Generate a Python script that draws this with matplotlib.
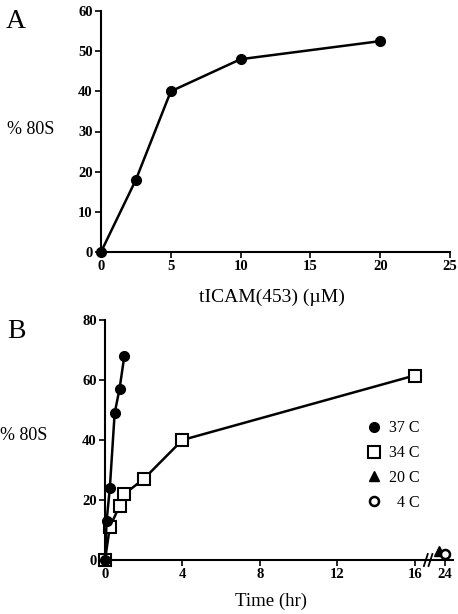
import numpy as np
import matplotlib.pyplot as plt
from matplotlib.lines import Line2D

plt.rcParams["font.family"] = ["Liberation Serif", "DejaVu Serif"]

# panel A: dose response
conc_um = [0, 2.5, 5, 10, 20]
pct80s_a = [0, 18, 40, 48, 52.5]

# panel B: time course per temperature
t37 = [0, 0.083, 0.25, 0.5, 0.75, 1.0]
v37 = [0, 13, 24, 49, 57, 68]
t34 = [0, 0.25, 0.75, 1.0, 2.0, 4.0, 16.0]
v34 = [0, 11, 18, 22, 27, 40, 61.5]
t20 = [20.0]
v20 = [3]
t4 = [24.0]
v4 = [2]

time_ticks = [0, 4, 8, 12, 16, 24]


def tpos(t):
    # broken time axis: compress everything after 17 h
    t = np.asarray(t, dtype=float)
    return np.where(t <= 17, t, 17 + (t - 17) * 0.08)


W, H = 458, 614
fig = plt.figure(figsize=(W / 100, H / 100), dpi=100)

tick_kw = dict(direction="out", length=4, width=1.2, labelsize=10.5)


def style(ax):
    for s in ("top", "right"):
        ax.spines[s].set_visible(False)
    for s in ("left", "bottom"):
        ax.spines[s].set_linewidth(1.5)
    ax.tick_params(**tick_kw, pad=2)
    for lab in ax.get_xticklabels() + ax.get_yticklabels():
        lab.set_fontweight("bold")


# ---- A ----
axA = fig.add_axes([101 / W, 1 - 252 / H, (450 - 101) / W, (252 - 11) / H])
axA.plot(conc_um, pct80s_a, "-o", color="black", lw=1.8, ms=7, clip_on=False, zorder=3)
axA.set_xlim(0, 25)
axA.set_ylim(0, 60)
axA.set_xticks([0, 5, 10, 15, 20, 25])
axA.set_yticks([0, 10, 20, 30, 40, 50, 60])
style(axA)
fig.text(272 / W, 1 - 297 / H, "tICAM(453) (\u00b5M)", ha="center", va="center", fontsize=14)
fig.text(7 / W, 1 - 130 / H, "% 80S", ha="left", va="center", fontsize=13)
fig.text(6 / W, 1 - 21 / H, "A", ha="left", va="center", fontsize=20)

# ---- B ----
axB = fig.add_axes([105 / W, 1 - 560 / H, 18 * 19.35 / W, (560 - 320) / H])
axB.plot(tpos(t34), v34, "-s", color="black", mfc="white", mew=1.5, lw=1.8, ms=8,
         clip_on=False, zorder=3)
axB.plot(tpos(t37), v37, "-o", color="black", lw=1.8, ms=7, clip_on=False, zorder=4)
axB.plot(tpos(t20), v20, "^", color="black", ms=7, clip_on=False, zorder=3)
axB.plot(tpos(t4), v4, "o", color="black", mfc="white", mew=1.8, ms=6.5, clip_on=False, zorder=5)
axB.set_xlim(0, 18)
axB.set_ylim(0, 80)
axB.set_xticks(tpos(time_ticks))
axB.set_xticklabels([str(t) for t in time_ticks])
axB.set_yticks([0, 20, 40, 60, 80])
style(axB)

# break marks on time axis
for dx in (-0.12, 0.12):
    axB.plot([16.7 + dx - 0.1, 16.7 + dx + 0.1], [-2, 2], color="black", lw=1.3,
             clip_on=False, zorder=6)

handles = [
    Line2D([], [], ls="none", marker="o", color="black", ms=7),
    Line2D([], [], ls="none", marker="s", color="black", mfc="white", mew=1.5, ms=8),
    Line2D([], [], ls="none", marker="^", color="black", ms=7),
    Line2D([], [], ls="none", marker="o", color="black", mfc="white", mew=1.8, ms=6.5),
]
axB.legend(handles, ["37 C", "34 C", "20 C", "  4 C"], frameon=False, fontsize=11.5,
           loc="upper left", bbox_to_anchor=(352 / W, 1 - 406 / H),
           bbox_transform=fig.transFigure, handletextpad=0.4, labelspacing=0.55,
           handlelength=1.0)

fig.text(271 / W, 1 - 601 / H, "Time (hr)", ha="center", va="center", fontsize=13.5)
fig.text(0, 1 - 435 / H, "% 80S", ha="left", va="center", fontsize=13)
fig.text(7 / W, 1 - 332 / H, "B", ha="left", va="center", fontsize=20)

fig.savefig("out.png", dpi=100)
